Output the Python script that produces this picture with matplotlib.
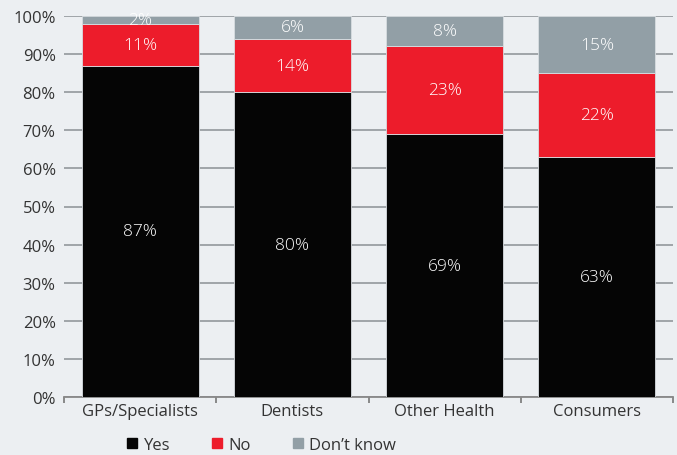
import matplotlib
matplotlib.use("Agg")
import matplotlib.pyplot as plt
from matplotlib.lines import Line2D
import numpy as np

categories = ["GPs/Specialists", "Dentists", "Other Health", "Consumers"]
yes = [87, 80, 69, 63]
no = [11, 14, 23, 22]
dont_know = [2, 6, 8, 15]
series_names = ["Yes", "No", "Don\u2019t know"]
colors = ["#050505", "#ED1C2B", "#929FA6"]
yticks = list(range(0, 101, 10))

plt.rcParams['font.family'] = ['Open Sans', 'DejaVu Sans']
bg = "#ECEFF2"
fig = plt.figure(figsize=(6.77, 4.56), dpi=100, facecolor=bg)
ax = fig.add_axes([64/677, 1-398/456, 609/677, 381/456], facecolor=bg)

x = np.arange(len(categories))
bottoms = np.zeros(len(categories))
for vals, col in zip([yes, no, dont_know], colors):
    ax.bar(x, vals, bottom=bottoms, width=0.77, color=col, edgecolor="#D8DDE1",
           linewidth=0.6, zorder=3)
    for xi, b, v in zip(x, bottoms, vals):
        ax.text(xi, b + v/2, f"{v}%", ha="center", va="center", color="white",
                fontsize=12.5, fontweight="light", zorder=4)
    bottoms += np.array(vals)

ax.set_xlim(-0.5, len(categories)-0.5)
ax.set_ylim(0, 100)
ax.set_yticks(yticks)
ax.set_yticklabels([f"{t}%" for t in yticks], fontsize=12, color="#333333")
ax.yaxis.grid(True, color="#9A9FA3", linewidth=1.3, zorder=0)
ax.set_axisbelow(True)
ax.tick_params(axis="y", length=0, pad=6)

ax.set_xticks(x)
ax.set_xticklabels(categories, fontsize=12, color="#333333")
ax.set_xticks(np.arange(-0.5, len(categories)), minor=True)
ax.tick_params(axis="x", which="major", length=0, pad=4)
ax.tick_params(axis="x", which="minor", length=4, width=1.2, color="#777777", direction="out")

for s in ["left", "right", "top"]:
    ax.spines[s].set_visible(False)
ax.spines["bottom"].set_color("#888888")
ax.spines["bottom"].set_linewidth(1.3)

handles = [Line2D([], [], marker="s", linestyle="none", markersize=7,
                  markerfacecolor=c, markeredgecolor=c) for c in colors]
leg = fig.legend(handles, series_names, loc="center", bbox_to_anchor=(260/677, 1-446/456),
                 ncol=3, frameon=False, fontsize=12, handletextpad=0.2,
                 columnspacing=2.3, handlelength=1.0)
for t in leg.get_texts():
    t.set_color("#333333")

fig.savefig("out.png", dpi=100, facecolor=bg)
